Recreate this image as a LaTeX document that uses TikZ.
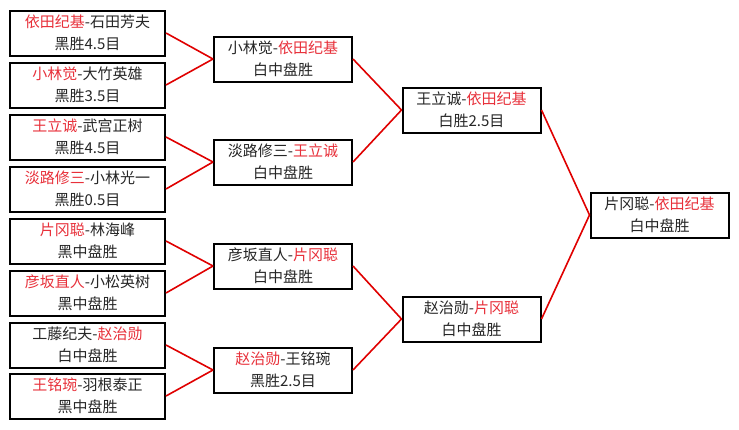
\documentclass[tikz,border=0pt]{standalone}
\usepackage{fontspec}
\setmainfont{Noto Sans CJK SC}
\definecolor{winred}{HTML}{E8303A}
\definecolor{linered}{HTML}{E00000}
\newcommand{\wn}[1]{\textcolor{winred}{#1}}
\tikzset{
  game/.style={draw=black, line width=2pt, fill=white, minimum height=45pt,
    align=center, inner sep=0pt, text=black!85,
    font=\fontsize{15}{22}\selectfont},
  leaf/.style={game, minimum width=155pt},
  mid/.style={game, minimum width=138pt},
  conn/.style={draw=linered, line width=1.6pt}
}
\begin{document}
\begin{tikzpicture}[x=1pt,y=-1pt]
\useasboundingbox[fill=white] (0,0) rectangle (739,429);
% leaves
\node[leaf] (l1) at (87.5,33)  {\wn{依田纪基}-石田芳夫\\黑胜4.5目};
\node[leaf] (l2) at (87.5,85)  {\wn{小林觉}-大竹英雄\\黑胜3.5目};
\node[leaf] (l3) at (87.5,137) {\wn{王立诚}-武宫正树\\黑胜4.5目};
\node[leaf] (l4) at (87.5,189) {\wn{淡路修三}-小林光一\\黑胜0.5目};
\node[leaf] (l5) at (87.5,241) {\wn{片冈聪}-林海峰\\黑中盘胜};
\node[leaf] (l6) at (87.5,293) {\wn{彦坂直人}-小松英树\\黑中盘胜};
\node[leaf] (l7) at (87.5,345) {工藤纪夫-\wn{赵治勋}\\白中盘胜};
\node[leaf] (l8) at (87.5,396) {\wn{王铭琬}-羽根泰正\\黑中盘胜};
% round 1
\node[mid] (a) at (283,59)  {小林觉-\wn{依田纪基}\\白中盘胜};
\node[mid] (b) at (283,162) {淡路修三-\wn{王立诚}\\白中盘胜};
\node[mid] (c) at (283,266) {彦坂直人-\wn{片冈聪}\\白中盘胜};
\node[mid] (d) at (283,370) {\wn{赵治勋}-王铭琬\\黑胜2.5目};
% round 2
\node[mid] (e) at (471.5,110) {王立诚-\wn{依田纪基}\\白胜2.5目};
\node[mid] (f) at (471.5,319) {赵治勋-\wn{片冈聪}\\白中盘胜};
% final
\node[mid] (g) at (659.5,215) {片冈聪-\wn{依田纪基}\\白中盘胜};
% connectors
\draw[conn] (l1.east) -- (a.west);
\draw[conn] (l2.east) -- (a.west);
\draw[conn] (l3.east) -- (b.west);
\draw[conn] (l4.east) -- (b.west);
\draw[conn] (l5.east) -- (c.west);
\draw[conn] (l6.east) -- (c.west);
\draw[conn] (l7.east) -- (d.west);
\draw[conn] (l8.east) -- (d.west);
\draw[conn] (a.east) -- (e.west);
\draw[conn] (b.east) -- (e.west);
\draw[conn] (c.east) -- (f.west);
\draw[conn] (d.east) -- (f.west);
\draw[conn] (e.east) -- (g.west);
\draw[conn] (f.east) -- (g.west);
\end{tikzpicture}
\end{document}
